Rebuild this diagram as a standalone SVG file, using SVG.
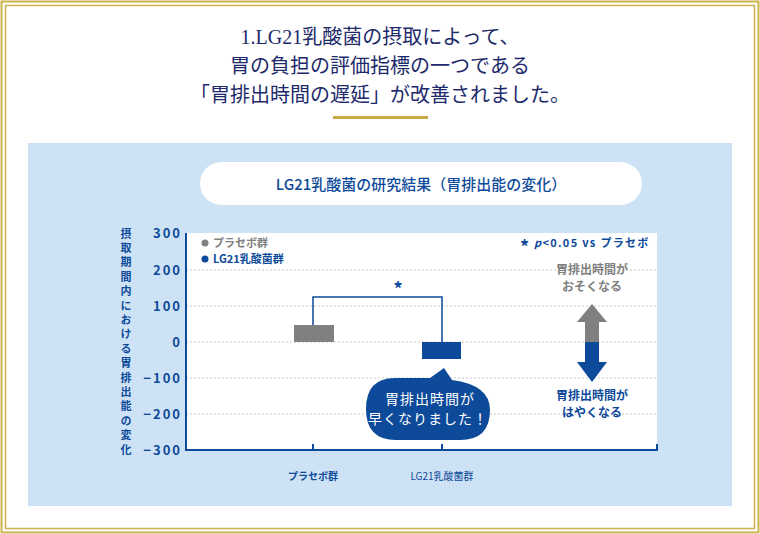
<svg xmlns="http://www.w3.org/2000/svg" width="760" height="534" viewBox="0 0 760 534">
<style>
.t{font-family:"Liberation Serif","Noto Sans CJK JP",serif;font-size:20px;fill:#1d2a6b;text-anchor:middle}
.s{font-family:"Noto Sans CJK JP",sans-serif;font-weight:bold;fill:#0d4a9a}
.g{stroke:#c9c9c9;stroke-dasharray:2 2;stroke-width:1}
.ax{font-family:"Noto Sans CJK JP",sans-serif;font-weight:bold;fill:#0d4a9a;font-size:13px;text-anchor:end;letter-spacing:2px}
</style>
<rect width="760" height="534" fill="#fff"/>
<rect x="1.5" y="1.5" width="757" height="531" fill="none" stroke="#cdb14a" stroke-width="2"/>
<rect x="5.5" y="5.5" width="749" height="523" fill="none" stroke="#cdb14a" stroke-width="1.5"/>
<g id="title">
<text class="t" x="380" y="44">1.LG21乳酸菌の摂取によって、</text>
<text class="t" x="380" y="73">胃の負担の評価指標の一つである</text>
<text class="t" x="380" y="102">「胃排出時間の遅延」が改善されました。</text>
<rect x="333" y="116" width="95" height="3" fill="#c9a94a"/>
</g>
<rect x="28" y="143" width="704" height="363" fill="#cde3f5"/>
<g id="chart-title">
<rect x="200" y="162" width="442" height="43" rx="21.5" fill="#fff"/>
<text class="s" x="421" y="190" font-size="15" text-anchor="middle" style="font-weight:500">LG21乳酸菌の研究結果（胃排出能の変化）</text>
</g>
<g id="plot">
<rect x="186" y="233" width="471" height="217" fill="#fff"/>
<g class="g">
<line x1="186" y1="270" x2="657" y2="270"/><line x1="186" y1="306" x2="657" y2="306"/>
<line x1="186" y1="342" x2="657" y2="342"/><line x1="186" y1="378" x2="657" y2="378"/>
<line x1="186" y1="414" x2="657" y2="414"/>
</g>
<path d="M186 233V450H657V444M313 450V444M442 450V444" fill="none" stroke="#0d4a9a" stroke-width="2"/>
<g class="ax">
<text x="182" y="238">300</text><text x="182" y="275">200</text><text x="182" y="311">100</text>
<text x="182" y="347">0</text><text x="182" y="383">−100</text><text x="182" y="419">−200</text><text x="182" y="455">−300</text>
</g>
<text class="s" font-size="11" x="126" y="228" writing-mode="tb" style="letter-spacing:3.4px">摂取期間内における胃排出能の変化</text>
<text class="s" font-size="10" x="313" y="480" text-anchor="middle">プラセボ群</text>
<text class="s" font-size="10" x="442" y="480" text-anchor="middle" style="font-weight:normal">LG21乳酸菌群</text>
</g>
<g id="legend">
<circle cx="205" cy="243" r="3.5" fill="#808080"/>
<text class="s" font-size="11" x="213" y="247" style="fill:#808080">プラセボ群</text>
<circle cx="205" cy="259" r="3.5" fill="#0d4a9a"/>
<text class="s" font-size="11" x="213" y="263">LG21乳酸菌群</text>
<text class="s" font-size="18" x="520" y="254">*</text>
<text class="s" font-size="11" x="534" y="247" letter-spacing="1.3"><tspan font-style="italic">p</tspan>&lt;0.05 vs プラセボ</text>
</g>
<g id="bars">
<rect x="294" y="325" width="40" height="17" fill="#808080"/>
<rect x="422" y="342" width="39" height="17" fill="#0d4a9a"/>
</g>
<g id="connectors">
<path d="M313 325V297H442V342" fill="none" stroke="#0d4a9a" stroke-width="1.5"/>
<text class="s" x="398" y="296" font-size="18" text-anchor="middle">*</text>
</g>
<g id="bubble">
<path d="M395 378H430L444 368L452 380Q490 385 490 410Q490 440 460 440H396Q366 440 366 409Q366 378 395 378Z" fill="#0d4a9a"/>
<text x="430" y="404" font-family="Noto Sans CJK JP,sans-serif" font-size="14" fill="#fff" text-anchor="middle" letter-spacing="1">胃排出時間が</text>
<text x="428" y="424" font-family="Noto Sans CJK JP,sans-serif" font-size="14" fill="#fff" text-anchor="middle" letter-spacing="1">早くなりました！</text>
</g>
<g id="arrows">
<path d="M585 342V322H577L592 304L607 322H599V342Z" fill="#808080"/>
<path d="M585 342V362H577L592 382L607 362H599V342Z" fill="#0d4a9a"/>
<text class="s" font-size="12" x="592" y="274" text-anchor="middle" style="fill:#808080">胃排出時間が</text>
<text class="s" font-size="12" x="592" y="291" text-anchor="middle" style="fill:#808080">おそくなる</text>
<text class="s" font-size="12" x="592" y="400" text-anchor="middle">胃排出時間が</text>
<text class="s" font-size="12" x="592" y="417" text-anchor="middle">はやくなる</text>
</g>
</svg>
